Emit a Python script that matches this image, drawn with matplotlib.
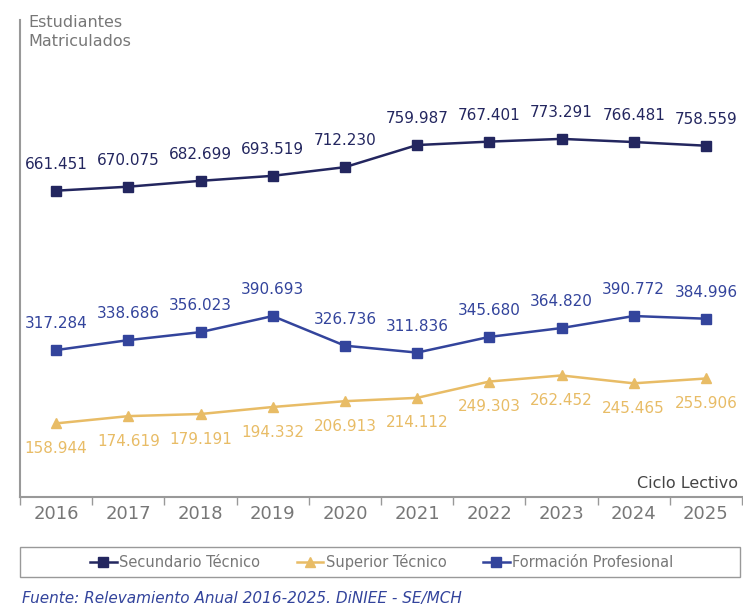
import matplotlib
import matplotlib.pyplot as plt
from matplotlib.patches import Rectangle

matplotlib.use('Agg')

years = ["2016", "2017", "2018", "2019", "2020", "2021", "2022", "2023", "2024", "2025"]
secundario = [661451, 670075, 682699, 693519, 712230, 759987, 767401, 773291, 766481, 758559]
superior = [158944, 174619, 179191, 194332, 206913, 214112, 249303, 262452, 245465, 255906]
formacion = [317284, 338686, 356023, 390693, 326736, 311836, 345680, 364820, 390772, 384996]

C_SEC = "#23265f"
C_SUP = "#e8bc66"
C_FOR = "#33449c"
GREY = "#777777"


def fmt(v):
    return f"{v:,}".replace(",", ".")


plt.rcParams['font.family'] = ['DejaVu Sans']

fig = plt.figure(figsize=(7.43, 6.10), dpi=100)
ax = fig.add_axes([20 / 743, 1 - 497 / 610, 722 / 743, 477 / 610])

x = list(range(len(years)))
series = [
    (secundario, C_SEC, "s", "Secundario Técnico", 19),
    (superior, C_SUP, "^", "Superior Técnico", -18),
    (formacion, C_FOR, "s", "Formación Profesional", 19),
]
handles = []
for vals, col, mk, lab, off in series:
    h, = ax.plot(x, vals, color=col, marker=mk, markersize=6.5, linewidth=1.8,
                 label=lab, clip_on=False)
    handles.append(h)
    for xi, v in zip(x, vals):
        ax.annotate(fmt(v), xy=(xi, v), xytext=(0, off),
                    textcoords="offset points", ha="center",
                    va="center", fontsize=11, color=col,
                    annotation_clip=False)

ax.set_xlim(-0.5, len(years) - 0.5)
ax.set_ylim(0, 1030000)
ax.set_yticks([])
ax.set_xticks([i - 0.5 for i in range(len(years) + 1)])
ax.set_xticklabels([])
ax.set_xticks(x, minor=True)
ax.set_xticklabels(years, minor=True, fontsize=13, color=GREY)
ax.tick_params(axis='x', which='major', length=6, color="#999999", width=1)
ax.tick_params(axis='x', which='minor', length=0, pad=6)
for s in ["top", "right"]:
    ax.spines[s].set_visible(False)
ax.spines["left"].set_color("#999999")
ax.spines["left"].set_linewidth(1.5)
ax.spines["bottom"].set_color("#999999")
ax.spines["bottom"].set_linewidth(1.5)

fig.text(28 / 743, 1 - 32 / 610, "Estudiantes\nMatriculados", fontsize=11.5,
         color=GREY, va="center", linespacing=1.3)
fig.text(738 / 743, 1 - 484 / 610, "Ciclo Lectivo", fontsize=11.5,
         color="#444444", ha="right", va="center")

fig.patches.append(Rectangle((20 / 743, 1 - 577 / 610), 720 / 743, 30 / 610,
                             transform=fig.transFigure, fill=False,
                             edgecolor="#999999", linewidth=1))
leg = fig.legend(handles=handles, loc="center", ncol=3, frameon=False,
                 bbox_to_anchor=(382 / 743, 1 - 562 / 610), fontsize=10.5,
                 handlelength=1.8, columnspacing=2.5, handletextpad=0.2)
for t in leg.get_texts():
    t.set_color(GREY)

fig.text(22 / 743, 1 - 598 / 610,
         "Fuente: Relevamiento Anual 2016-2025. DiNIEE - SE/MCH",
         fontsize=11, style="italic", color=C_FOR, va="center")

fig.savefig("out.png", dpi=100)
